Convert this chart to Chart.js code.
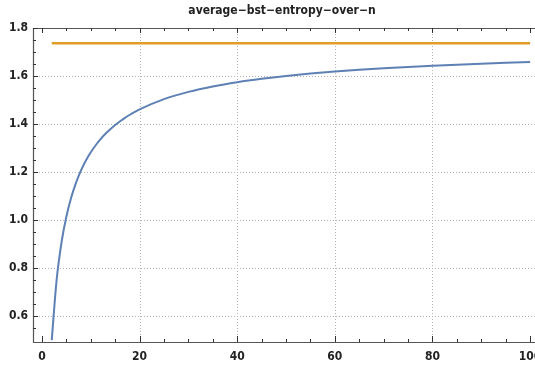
<!DOCTYPE html>
<html lang="en">
<head>
    <meta charset="UTF-8">
    <title>average-bst-entropy-over-n</title>
    <script src="https://cdn.jsdelivr.net/npm/chart.js"></script>
    <style>
        body { margin: 0; background: #fff; }
    </style>
</head>
<body>
    <canvas id="entropyChart" width="535" height="368"></canvas>

    <script>
        // values
        const nValues = [2, 3, 4, 5, 6, 7, 8, 9, 10, 11, 12, 13, 14, 15, 16, 17, 18, 19, 20,
                         25, 30, 35, 40, 45, 50, 55, 60, 65, 70, 75, 80, 85, 90, 95, 100];
        const entropyValues = [0.5, 0.7505, 0.9065, 1.0146, 1.0947, 1.1569, 1.2068, 1.2478, 1.2822,
                               1.3116, 1.3370, 1.3592, 1.3787, 1.3962, 1.4118, 1.4259, 1.4387, 1.4504,
                               1.4611, 1.5036, 1.5338, 1.5564, 1.5742, 1.5885, 1.6003, 1.6102, 1.6186,
                               1.6259, 1.6323, 1.6379, 1.6429, 1.6474, 1.6514, 1.6551, 1.6584];
        const limitN = [2, 100];
        const limitValues = [1.7364, 1.7364];

        const xTickLabels = [0, 20, 40, 60, 80, 100];
        const yTickLabels = [0.6, 0.8, 1.0, 1.2, 1.4, 1.6, 1.8];
        const xGrid = [20, 40, 60, 80];
        const yGrid = [0.6, 0.8, 1.0, 1.2, 1.4, 1.6];

        const titleText = 'average\u2212bst\u2212entropy\u2212over\u2212n';
        const labelFont = "'Liberation Sans Narrow', 'DejaVu Sans Condensed', sans-serif";

        // dotted grid, frame, inward ticks and title (Mathematica look)
        const framePlugin = {
            id: 'frame',
            beforeDatasetsDraw(chart) {
                const { ctx, chartArea: a, scales: { x, y } } = chart;
                ctx.save();
                ctx.strokeStyle = '#b4b4b4';
                ctx.lineWidth = 1;
                ctx.setLineDash([1, 2]);
                xGrid.forEach(v => {
                    const px = Math.round(x.getPixelForValue(v)) + 0.5;
                    ctx.beginPath(); ctx.moveTo(px, a.top); ctx.lineTo(px, a.bottom); ctx.stroke();
                });
                yGrid.forEach(v => {
                    const py = Math.round(y.getPixelForValue(v)) + 0.5;
                    ctx.beginPath(); ctx.moveTo(a.left, py); ctx.lineTo(a.right, py); ctx.stroke();
                });
                ctx.restore();
            },
            afterDraw(chart) {
                const { ctx, chartArea: a, scales: { x, y } } = chart;
                ctx.save();
                ctx.setLineDash([]);
                // frame
                ctx.strokeStyle = '#555';
                ctx.lineWidth = 1.2;
                ctx.beginPath();
                ctx.moveTo(a.left + 0.5, a.top + 0.5);
                ctx.lineTo(a.right, a.top + 0.5);
                ctx.moveTo(a.left + 0.5, a.top);
                ctx.lineTo(a.left + 0.5, a.bottom + 0.5);
                ctx.lineTo(a.right, a.bottom + 0.5);
                ctx.stroke();

                // ticks
                ctx.strokeStyle = '#333';
                ctx.lineWidth = 1;
                for (let v = 0; v <= 100; v += 5) {
                    const px = Math.round(x.getPixelForValue(v)) + 0.5;
                    const major = v % 20 === 0;
                    ctx.beginPath();
                    ctx.moveTo(px, a.bottom); ctx.lineTo(px, a.bottom - (major ? 6 : 3));
                    ctx.moveTo(px, a.top); ctx.lineTo(px, a.top + (major ? 5 : 3));
                    ctx.stroke();
                }
                for (let i = 11; i <= 36; i++) {
                    const v = i * 0.05;
                    const py = Math.round(y.getPixelForValue(v)) + 0.5;
                    const major = i % 4 === 0;
                    ctx.beginPath();
                    ctx.moveTo(a.left, py); ctx.lineTo(a.left + (major ? 5 : 3), py);
                    ctx.stroke();
                }

                // title
                ctx.fillStyle = '#222';
                ctx.font = 'bold 12px ' + labelFont;
                ctx.textAlign = 'center';
                ctx.textBaseline = 'middle';
                ctx.fillText(titleText, (a.left + 531) / 2, 11);
                ctx.restore();
            }
        };

        const ctx = document.getElementById('entropyChart').getContext('2d');
        const entropyChart = new Chart(ctx, {
            type: 'line',
            data: {
                datasets: [{
                    label: 'average bst entropy',
                    data: nValues.map((n, i) => ({ x: n, y: entropyValues[i] })),
                    borderColor: '#5e81b5',
                    borderWidth: 2,
                    pointRadius: 0,
                    cubicInterpolationMode: 'monotone',
                    fill: false
                }, {
                    label: 'limit',
                    data: limitN.map((n, i) => ({ x: n, y: limitValues[i] })),
                    borderColor: '#e19c24',
                    borderWidth: 2.5,
                    pointRadius: 0,
                    fill: false
                }]
            },
            options: {
                responsive: false,
                animation: false,
                layout: { padding: { top: 28, left: 0, right: 0, bottom: 0 } },
                plugins: {
                    legend: { display: false },
                    title: { display: false },
                    tooltip: { enabled: false }
                },
                scales: {
                    x: {
                        type: 'linear',
                        min: -1.84,
                        max: 101.0,
                        grid: { display: false, drawTicks: false },
                        border: { display: false },
                        afterBuildTicks: s => { s.ticks = xTickLabels.map(v => ({ value: v })); },
                        afterFit: s => { s.height = 26; s.paddingLeft = 0; s.paddingRight = 0; },
                        ticks: {
                            padding: 8,
                            maxRotation: 0,
                            autoSkip: false,
                            color: '#222',
                            font: { family: labelFont, size: 12, weight: 'bold' }
                        }
                    },
                    y: {
                        min: 0.492,
                        max: 1.8,
                        grid: { display: false, drawTicks: false },
                        border: { display: false },
                        afterBuildTicks: s => { s.ticks = yTickLabels.map(v => ({ value: v })); },
                        afterFit: s => { s.width = 33; s.paddingTop = 0; s.paddingBottom = 0; },
                        ticks: {
                            padding: 5,
                            autoSkip: false,
                            color: '#222',
                            font: { family: labelFont, size: 12, weight: 'bold' },
                            callback: v => v.toFixed(1)
                        }
                    }
                }
            },
            plugins: [framePlugin]
        });
    </script>
</body>
</html>
